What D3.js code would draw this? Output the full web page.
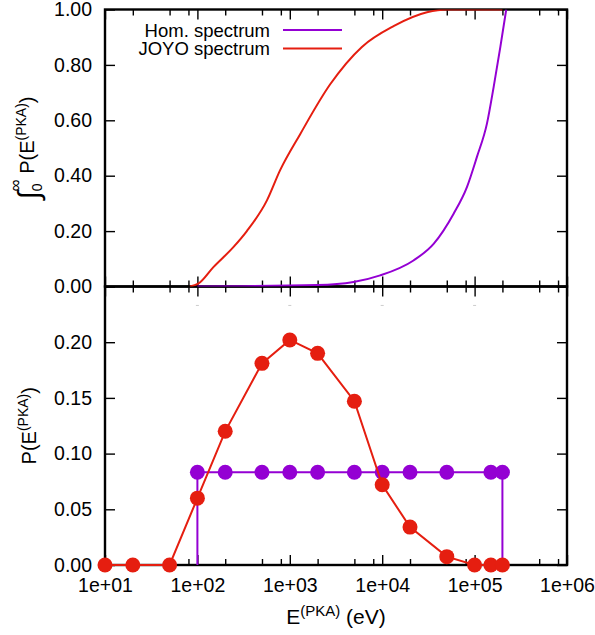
<!DOCTYPE html>
<html>
<head>
<meta charset="utf-8">
<script src="https://cdn.jsdelivr.net/npm/d3@7"></script>
<style>
  body { margin: 0; background: #fff; }
  text { font-family: "Liberation Sans", Arial, Helvetica, sans-serif; fill: #000; }
</style>
</head>
<body>
<div id="chart"></div>
<script>
const width = 595;
const height = 635;
const margin = {left: 105, right: 28, top: 9.5, bottom: 70};
const splitY = 286.5;   // border shared by the two panels

// Bottom panel : probability per energy bin
const joyoE = [10, 20, 50, 100, 200, 500, 1000, 2000, 5000, 10000, 20000, 50000, 100000, 150000, 200000];
const joyoP = [0, 0, 0, 0.060, 0.120, 0.181, 0.202, 0.190, 0.147, 0.072, 0.034, 0.0075, 0, 0, 0];
const homE = [100, 200, 500, 1000, 2000, 5000, 10000, 20000, 50000, 150000, 200000];
const homP = [0.0833, 0.0833, 0.0833, 0.0833, 0.0833, 0.0833, 0.0833, 0.0833, 0.0833, 0.0833, 0.0833];

// Top panel : cumulative curves
const cumJoyoE = [83, 102, 149, 245, 343, 564, 786, 1295, 2735, 6030, 13270, 30500, 50200, 200000];
const cumJoyo = [0, 0.01, 0.07, 0.142, 0.20, 0.31, 0.42, 0.55, 0.73, 0.865, 0.94, 0.99, 1.0, 1.0];
const cumHomE = [100, 2000, 4890, 9510, 21800, 36000, 59300, 82600, 106000, 136000, 160700, 190000, 220000];
const cumHom = [0, 0.005, 0.016, 0.04, 0.094, 0.154, 0.263, 0.359, 0.468, 0.588, 0.72, 0.865, 1.0];

// ticks
const xMajor = [1e1, 1e2, 1e3, 1e4, 1e5, 1e6];
const xTickLabels = ["1e+01", "1e+02", "1e+03", "1e+04", "1e+05", "1e+06"];
const xMinor = [20, 50, 80, 200, 500, 800, 2e3, 5e3, 8e3, 2e4, 5e4, 8e4, 2e5, 5e5, 8e5];
const topTicks = [0, 0.2, 0.4, 0.6, 0.8, 1.0];
const botTicks = [0, 0.05, 0.10, 0.15, 0.20, 0.25];
const botTickLabels = ["0.00", "0.05", "0.10", "0.15", "0.20", ""];

const legendNames = ["Hom. spectrum", "JOYO spectrum"];
const purple = "#9400d3";
const red = "#e51e10";

const svg = d3.select('#chart')
              .append('svg')
              .attr('width', width)
              .attr('height', height);

svg.append('rect').attr('width', width).attr('height', height).attr('fill', '#fff');

const x = d3.scaleLog()
            .domain([1e1, 1e6])
            .range([margin.left, width - margin.right]);

const yTop = d3.scaleLinear()
               .domain([0, 1])
               .range([splitY, margin.top]);

const yBot = d3.scaleLinear()
               .domain([0, 0.25])
               .range([height - margin.bottom, splitY]);

// clip paths for the two panels
const defs = svg.append('defs');
defs.append('clipPath').attr('id', 'clipTop').append('rect')
    .attr('x', x.range()[0]).attr('y', yTop(1))
    .attr('width', x.range()[1] - x.range()[0]).attr('height', yTop(0) - yTop(1));
defs.append('clipPath').attr('id', 'clipBot').append('rect')
    .attr('x', x.range()[0] - 10).attr('y', yBot(0.25))
    .attr('width', x.range()[1] - x.range()[0] + 20).attr('height', yBot(0) - yBot(0.25) + 10);

function drawFrame(y, yVals, yLabels, showX) {
  const x0 = x.range()[0], x1 = x.range()[1];
  const yb = y.range()[0], yt = y.range()[1];

  // x major ticks (bottom, with or without labels)
  svg.append('g')
     .attr('transform', 'translate(0,' + yb + ')')
     .call(d3.axisBottom(x).tickValues(xMajor).tickSize(-10).tickPadding(13)
             .tickFormat((d, i) => showX ? xTickLabels[i] : ''))
     .call(g => g.select('.domain').remove());
  svg.append('g')
     .attr('transform', 'translate(0,' + yb + ')')
     .call(d3.axisBottom(x).tickValues(xMinor).tickSize(-6).tickFormat(''))
     .call(g => g.select('.domain').remove());
  // x ticks on top edge
  svg.append('g')
     .attr('transform', 'translate(0,' + yt + ')')
     .call(d3.axisTop(x).tickValues(xMajor).tickSize(-10).tickFormat(''))
     .call(g => g.select('.domain').remove());
  svg.append('g')
     .attr('transform', 'translate(0,' + yt + ')')
     .call(d3.axisTop(x).tickValues(xMinor).tickSize(-6).tickFormat(''))
     .call(g => g.select('.domain').remove());

  // y ticks left (labelled) and right
  svg.append('g')
     .attr('transform', 'translate(' + x0 + ',0)')
     .call(d3.axisLeft(y).tickValues(yVals).tickSize(-10).tickPadding(13)
             .tickFormat((d, i) => yLabels[i]))
     .call(g => g.select('.domain').remove());
  svg.append('g')
     .attr('transform', 'translate(' + x1 + ',0)')
     .call(d3.axisRight(y).tickValues(yVals).tickSize(-10).tickFormat(''))
     .call(g => g.select('.domain').remove());

  svg.append('rect')
     .attr('x', x0).attr('y', yt)
     .attr('width', x1 - x0).attr('height', yb - yt)
     .attr('fill', 'none').attr('stroke', '#000').attr('stroke-width', 2.4);
}

drawFrame(yTop, topTicks, topTicks.map(d3.format('.2f')), false);
drawFrame(yBot, botTicks, botTickLabels, true);

svg.selectAll('.tick line').attr('stroke', '#000').attr('stroke-width', 1.4);
svg.selectAll('.tick text').style('font-size', '19.5px').attr('fill', '#000');

// faint marks under the shared border
svg.append('g').selectAll('line')
   .data(xMajor.slice(1, 5))
   .enter().append('line')
   .attr('x1', d => x(d) - 1.5).attr('x2', d => x(d) + 1.5)
   .attr('y1', yBot(0.233)).attr('y2', yBot(0.233))
   .attr('stroke', '#ccc').attr('stroke-width', 1);

// top panel curves
const cumLine = d3.line().x(d => x(d[0])).y(d => yTop(d[1])).curve(d3.curveMonotoneX);
const topG = svg.append('g').attr('clip-path', 'url(#clipTop)');
topG.append('path')
    .datum(cumHomE.map((e, i) => [e, cumHom[i]]))
    .attr('d', cumLine)
    .attr('fill', 'none').attr('stroke', purple).attr('stroke-width', 2);
topG.append('path')
    .datum(cumJoyoE.map((e, i) => [e, cumJoyo[i]]))
    .attr('d', cumLine)
    .attr('fill', 'none').attr('stroke', red).attr('stroke-width', 2);

// legend
const legend = svg.append('g');
legendNames.forEach((name, i) => {
  const ly = 36.5 + i * 18.5;
  legend.append('text')
        .attr('x', 270).attr('y', ly)
        .attr('text-anchor', 'end')
        .style('font-size', '18.5px')
        .text(name);
  legend.append('line')
        .attr('x1', 283).attr('x2', 342)
        .attr('y1', ly - 6.5).attr('y2', ly - 6.5)
        .attr('stroke', i === 0 ? purple : red).attr('stroke-width', 2);
});

// bottom panel
const probLine = d3.line().x(d => x(d[0])).y(d => yBot(d[1]));
const botG = svg.append('g').attr('clip-path', 'url(#clipBot)');

const homPts = homE.map((e, i) => [e, homP[i]]);
const homPath = [[homE[0], 0]].concat(homPts, [[homE[homE.length - 1], 0]]);
botG.append('path')
    .datum(homPath)
    .attr('d', probLine)
    .attr('fill', 'none').attr('stroke', purple).attr('stroke-width', 2);
botG.selectAll('circle.hom')
    .data(homPts)
    .enter().append('circle')
    .attr('class', 'hom')
    .attr('cx', d => x(d[0])).attr('cy', d => yBot(d[1]))
    .attr('r', 7.5).attr('fill', purple);

const joyoPts = joyoE.map((e, i) => [e, joyoP[i]]);
botG.append('path')
    .datum(joyoPts)
    .attr('d', probLine)
    .attr('fill', 'none').attr('stroke', red).attr('stroke-width', 2);
botG.selectAll('circle.joyo')
    .data(joyoPts)
    .enter().append('circle')
    .attr('class', 'joyo')
    .attr('cx', d => x(d[0])).attr('cy', d => yBot(d[1]))
    .attr('r', 7.5).attr('fill', red);

// axis labels
const xl = svg.append('text')
    .attr('x', (x.range()[0] + x.range()[1]) / 2)
    .attr('y', 624)
    .attr('text-anchor', 'middle')
    .style('font-size', '21px');
xl.append('tspan').text('E');
xl.append('tspan').attr('dy', -8).style('font-size', '15px').text('(PKA)');
xl.append('tspan').attr('dy', 8).text(' (eV)');

const yl2 = svg.append('text')
    .attr('transform', 'translate(36,' + (yBot(0) + yBot(0.25)) / 2 + ') rotate(-90)')
    .attr('text-anchor', 'middle')
    .style('font-size', '20px');
yl2.append('tspan').text('P(E');
yl2.append('tspan').attr('dy', -8).style('font-size', '14px').text('(PKA)');
yl2.append('tspan').attr('dy', 8).text(')');

const yl1 = svg.append('text')
    .attr('transform', 'translate(34,' + (yTop(0) + yTop(1)) / 2 + ') rotate(-90)')
    .attr('text-anchor', 'middle')
    .style('font-size', '20px');
yl1.append('tspan').style('font-size', '30px').attr('dy', 5).text('\u222B');
yl1.append('tspan').style('font-size', '14px').attr('dy', 3).text('0');
yl1.append('tspan').style('font-size', '17px').attr('dx', -8).attr('dy', -21).text('\u221E');
yl1.append('tspan').attr('dy', 13).text(' P(E');
yl1.append('tspan').attr('dy', -8).style('font-size', '14px').text('(PKA)');
yl1.append('tspan').attr('dy', 8).text(')');
</script>
</body>
</html>
